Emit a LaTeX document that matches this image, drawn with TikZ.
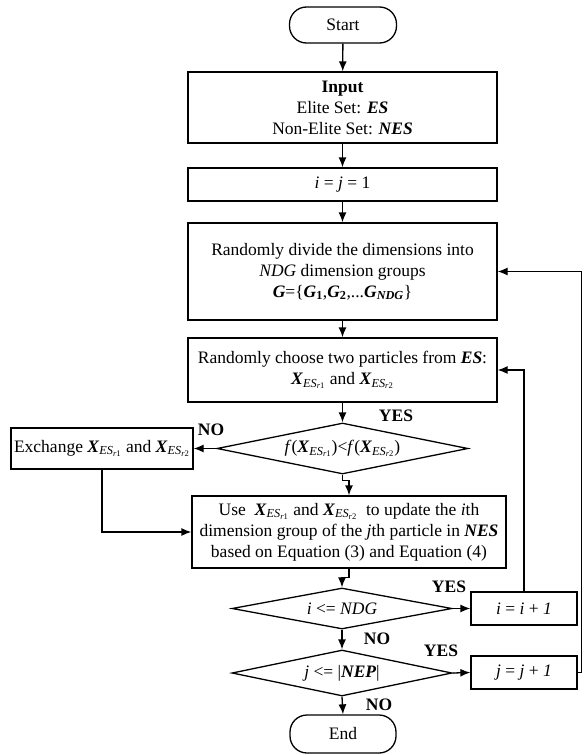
\documentclass[tikz,border=0pt]{standalone}
\usepackage{fontspec}
\setmainfont{Liberation Serif}
\usepackage{tikz}
\usetikzlibrary{shapes.geometric,arrows.meta}
\newcommand{\bi}[1]{\textbf{\textit{#1}}}
\newcommand{\xes}[1]{\bi{X}\textsubscript{\textit{ES}\textsubscript{\textit{r}#1}}}

\begin{document}
\begin{tikzpicture}[x=1pt,y=-1pt,font=\fontsize{17.5}{21}\selectfont,
  proc/.style n args={2}{draw,rectangle,line width=1.3pt,minimum width=#1pt,minimum height=#2pt,align=center,inner sep=0pt},
  dec/.style n args={3}{draw,diamond,line width=1.3pt,shape aspect=#3,minimum width=#1pt,minimum height=#2pt,inner sep=0pt},
  term/.style={draw,rectangle,line width=1.3pt,rounded corners=17pt,minimum width=107pt,minimum height=36pt},
  flow/.style={-{Latex[length=10pt,width=8pt]},line width=1.3pt},
  lbl/.style={font=\fontsize{17.5}{21}\selectfont\bfseries}]
  \useasboundingbox (0,0) rectangle (585,755);
  % main column
  \node[term] (start) at (343,25) {Start};
  \node[proc={309}{71}] (input) at (342.5,107.5) {\textbf{Input}\\Elite Set: \bi{ES}\\Non-Elite Set: \bi{NES}};
  \node[proc={309}{33}] (init) at (342.5,184.5) {\textit{i} = \textit{j} = 1};
  \node[proc={309}{97}] (divide) at (342.5,271.5) {Randomly divide the dimensions into\\\textit{NDG} dimension groups\\\bi{G}=\{\bi{G}\textsubscript{\textbf{1}},\bi{G}\textsubscript{\textbf{2}},...\bi{G}\textsubscript{\bi{NDG}}\}};
  \node[proc={309}{64}] (choose) at (342.5,370) {Randomly choose two particles from \bi{ES}:\\\xes{1} and \xes{2}};
  \node[dec={251}{51}{4.9}] (cmp) at (342.5,448.5) {\textit{f}(\xes{1})<\textit{f}(\xes{2})};
  \node[proc={182}{41}] (exch) at (102,448.5) {Exchange \xes{1} and \xes{2}};
  \node[proc={314}{72}] (update) at (349,532) {Use \ \xes{1} and \xes{2} \ to update the \textit{i}th\\dimension group of the \textit{j}th particle in \bi{NES}\\based on Equation (3) and Equation (4)};
  \node[dec={220}{41}{5.4}] (iloop) at (342,608.5) {\textit{i} <= \textit{NDG}};
  \node[dec={220}{46}{4.8}] (jloop) at (342,673) {\textit{j} <= |\bi{NEP}|};
  \node[term,minimum width=106pt,minimum height=38pt] (end) at (343,734) {End};
  % counters
  \node[proc={106}{33}] (inci) at (524,608.5) {\textit{i} = \textit{i} + \textit{1}};
  \node[proc={106}{33}] (incj) at (524,672.5) {\textit{j} = \textit{j} + \textit{1}};

  \draw[flow] (start) -- (input);
  \draw[flow] (input) -- (init);
  \draw[flow] (init) -- (divide);
  \draw[flow] (divide) -- (choose);
  \draw[flow] (choose.south -| cmp.north) -- (cmp.north);
  \draw[flow] (cmp.west) -- (exch.east);
  \draw[flow] (exch.south) |- (update.west);
  \draw[flow] (cmp.south) -- ++(0,6) -| (update.north);
  \draw[flow] (update.south) -- ++(0,9) -| (iloop.north);
  \draw[flow] (iloop.east) -- (inci.west);
  \draw[flow] (inci.north) |- (choose.east);
  \draw[flow] (iloop.south) -- (jloop.north);
  \draw[flow] (jloop.east) -- (incj.west);
  \draw[flow] (incj.east) -- ++(4,0) |- (divide.east);
  \draw[flow] (jloop.south) -- (end.north);

  \node[lbl] (yes1) at (396,416) {YES};
  \node[lbl] (no1) at (211,430) {NO};
  \node[lbl] (yes2) at (449,587) {YES};
  \node[lbl] (no2) at (377,639) {NO};
  \node[lbl] (yes3) at (441,651) {YES};
  \node[lbl] (no3) at (379,705) {NO};
\end{tikzpicture}
\end{document}
